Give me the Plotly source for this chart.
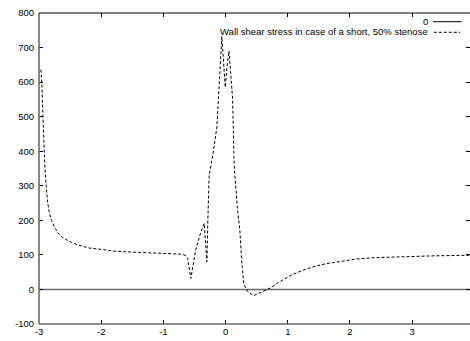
import plotly.graph_objects as go

# ---- data ----
wss_x = [-2.97, -2.955, -2.94, -2.925, -2.905, -2.88, -2.86, -2.83, -2.80, -2.75,
         -2.70, -2.62, -2.50, -2.38, -2.20, -2.00, -1.80, -1.50, -1.25, -1.00,
         -0.80, -0.70, -0.64, -0.61, -0.585, -0.558, -0.48, -0.40, -0.344, -0.32,
         -0.30, -0.285, -0.264, -0.20, -0.14, -0.06, -0.03, -0.005, 0.02, 0.055,
         0.08, 0.113, 0.138, 0.19, 0.23, 0.26, 0.294, 0.35, 0.45, 0.55,
         0.65, 0.73, 0.85, 1.05, 1.25, 1.42, 1.60, 1.85, 2.10, 2.39,
         2.65, 2.93, 3.30, 3.60, 3.94]
wss_y = [636, 600, 520, 440, 350, 290, 250, 218, 200, 180,
         165, 150, 138, 129, 120, 116, 111, 108, 106, 104,
         103, 102, 98, 90, 62, 32, 115, 165, 191, 125,
         80, 200, 330, 395, 470, 732, 650, 585, 640, 690,
         630, 552, 359, 234, 170, 80, 15, -5, -18, -10,
         -2, 5, 20, 41, 56, 66, 74, 82, 88, 92,
         94, 96, 97, 98, 99]
zero_level = 0.0

x_range = [-3.0, 3.93]
y_range = [-100, 800]
x_ticks = [-3, -2, -1, 0, 1, 2, 3]
y_ticks = [-100, 0, 100, 200, 300, 400, 500, 600, 700, 800]

label_zero = "0"
label_wss = "Wall shear stress in case of a short, 50% stenose"

FONT = dict(family="Liberation Sans, Arial, Helvetica, sans-serif", size=9.5, color="#000000")

fig = go.Figure()
fig.add_trace(go.Scatter(x=x_range, y=[zero_level, zero_level], mode="lines",
                         line=dict(color="#6a6a6a", width=1.6), name=label_zero,
                         showlegend=False, hoverinfo="skip"))
fig.add_trace(go.Scatter(x=wss_x, y=wss_y, mode="lines",
                         line=dict(color="#000000", width=1, dash="3px,2px"),
                         name=label_wss, showlegend=False))

axis_common = dict(showgrid=False, zeroline=False, showline=False,
                   ticks="inside", ticklen=4, tickwidth=1, tickcolor="#000000",
                   mirror="ticks", tickfont=FONT)
fig.update_xaxes(range=x_range, tickvals=x_ticks, ticktext=[str(v) for v in x_ticks],
                 ticklabelstandoff=0, **axis_common)
fig.update_yaxes(range=y_range, tickvals=y_ticks, ticktext=[str(v) for v in y_ticks],
                 ticklabelstandoff=4, **axis_common)

shapes = [
    dict(type="line", xref="paper", yref="paper", x0=0, x1=0, y0=0, y1=1,
         line=dict(color="#6a6a6a", width=1.6)),
    dict(type="line", xref="paper", yref="paper", x0=0, x1=1, y0=0, y1=0,
         line=dict(color="#6a6a6a", width=1.6)),
    dict(type="line", xref="paper", yref="paper", x0=0, x1=1, y0=1, y1=1,
         line=dict(color="#000000", width=1)),
    # legend samples
    dict(type="line", xref="paper", yref="paper", x0=0.914, x1=0.981, y0=0.972, y1=0.972,
         line=dict(color="#000000", width=1)),
    dict(type="line", xref="paper", yref="paper", x0=0.916, x1=0.977, y0=0.938, y1=0.938,
         line=dict(color="#000000", width=1, dash="3px,2px")),
]
annotations = [
    dict(xref="paper", yref="paper", x=0.908, y=0.972, text=label_zero, showarrow=False,
         xanchor="right", yanchor="middle", font=FONT),
    dict(xref="paper", yref="paper", x=0.908, y=0.940, text=label_wss, showarrow=False,
         xanchor="right", yanchor="middle", font=FONT),
]

fig.update_layout(width=470, height=341, margin=dict(l=39, r=0, t=13, b=17),
                  paper_bgcolor="#ffffff", plot_bgcolor="#ffffff",
                  shapes=shapes, annotations=annotations, showlegend=False)

fig.write_html("out.html")
